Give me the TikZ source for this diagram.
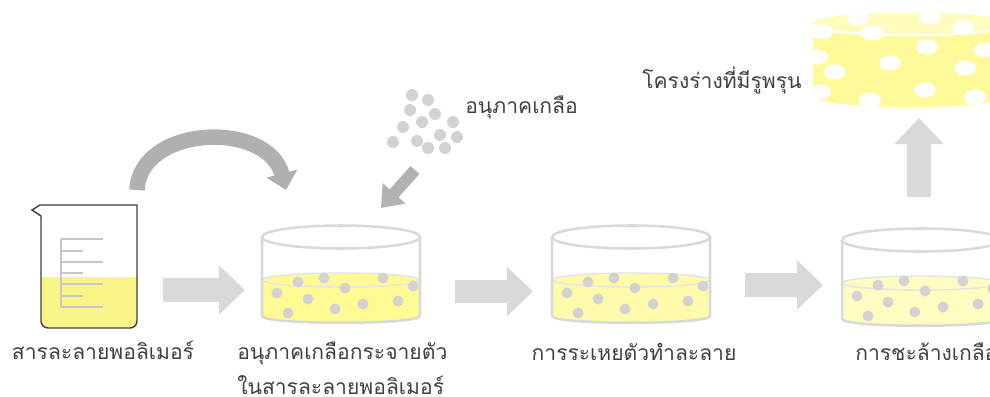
\documentclass[tikz,border=0pt]{standalone}
\usepackage{fontspec}
\newfontfamily\thaifont[Script=Thai]{Loma}
\usepackage{xcolor}
\usepackage{tikz}
\usetikzlibrary{arrows.meta, positioning}

\definecolor{liquid}{HTML}{F8F488}

\begin{document}
\begin{tikzpicture}[
    x=0.025cm, y=-0.025cm,
    font=\thaifont\fontsize{15pt}{25pt}\selectfont,
    lbl/.style={text=black!75, inner sep=0pt},
    glass/.style={draw=gray!30, line width=1.8pt},
    grain/.style={fill=gray!35},
    hole/.style={fill=white},
    blockarr/.style={-{Triangle[length=18.5pt, width=34pt]}, line width=17pt, gray!30},
    pourarr/.style={-{Triangle[length=12pt, width=22pt]}, line width=11pt, gray!62},
    saltarr/.style={-{Triangle[length=14pt, width=21pt]}, line width=8.5pt, gray!60},
]

\useasboundingbox (0,0) rectangle (990,396);
\clip (0,0) rectangle (990,396);

% beaker with polymer solution
\fill[liquid] (41,277) -- (41,300) [rounded corners=5pt] -- (41,328) -- (137,328) -- (137,300) [sharp corners] -- (137,277) -- cycle;
\draw[gray!45, line width=0.8pt] (61,239) -- (61,307);
\foreach \y in {239,262,284,307}
    \draw[gray!45, line width=0.8pt] (61,\y) -- (103,\y);
\foreach \y in {251,273,296}
    \draw[gray!45, line width=0.8pt] (61,\y) -- (83,\y);
\draw[black!75, line width=1pt] (41,216) -- (32,210) -- (40,205) -- (137,205) -- (137,230) [rounded corners=5pt] -- (137,328) -- (41,328) -- (41,300) [sharp corners] -- cycle;

% dishes: liquid, glass, salt grains
\foreach \x/\dy/\c [count=\i] in {262/0/yellow!42, 552/0/yellow!33, 842/3/yellow!24} {
  \begin{scope}[shift={(\x,\dy)}]
    \coordinate (dish\i) at (79,280);
    \fill[\c] (0,280) .. controls (0,271) and (158,271) .. (158,280) -- (158,316) .. controls (158,325) and (0,325) .. (0,316) -- cycle;
    \draw[draw=gray!22, line width=1pt] (79,280) ellipse [x radius=79, y radius=7];
    \draw[glass] (79,237) ellipse [x radius=79, y radius=11.5];
    \draw[glass] (0,237) -- (0,316) .. controls (0,325) and (158,325) .. (158,316) -- (158,237);
    \foreach \px/\py in {36/282, 62/278, 121/278, 83/288, 151/286, 15/293, 46/299, 101/304, 136/301, 26/313, 73/309}
      \fill[grain] (\px,\py) circle (5.5);
  \end{scope}
}

% salt particles
\foreach \px/\py in {412/95, 428/100, 410/110, 435/114, 422/122, 453/122, 403/127, 440/135, 457/137, 393/142, 417/141, 428/148, 445/148}
  \fill[grain] (\px,\py) circle (6);
\node[lbl, anchor=west] (saltlbl) at (465,107) {อนุภาคเกลือ};

% porous scaffold
\begin{scope}
  \clip (813,24) -- (813,95) .. controls (813,111) and (1007,111) .. (1007,95) -- (1007,24) .. controls (1007,9) and (813,9) .. (813,24) -- cycle;
  \fill[yellow!40] (800,0) rectangle (1010,120);
  \fill[yellow!26] (910,24) ellipse [x radius=97, y radius=11];
  \draw[white, line width=1.5pt] (813,24) .. controls (813,39) and (1007,39) .. (1007,24);
  \foreach \px/\py in {822/32, 858/18, 872/33, 930/17, 963/28, 927/47, 985/50, 817/57, 890/63, 835/72, 965/68, 925/90, 820/92, 870/100, 975/97}
    \fill[hole] (\px,\py) ellipse [x radius=11, y radius=7.5];
\end{scope}
\node[lbl, anchor=west] (porous) at (642,80) {โครงร่างที่มีรูพรุน};

% process arrows
\coordinate (a1s) at (163,290);
\coordinate (a1e) at (245,290);
\coordinate (a2s) at (455,291.5);
\coordinate (a2e) at (533,291.5);
\coordinate (a3s) at (745,285);
\coordinate (a3e) at (823,285);
\coordinate (ups) at (919,197);
\coordinate (upe) at (919,118);
\draw[blockarr] (a1s) -- (a1e);
\draw[blockarr] (a2s) -- (a2e);
\draw[blockarr] (a3s) -- (a3e);
\draw[blockarr] (ups) -- (upe);

\coordinate (pour) at (137,190);
\coordinate (pourend) at (286,190);
\draw[pourarr] (pour) .. controls (140,125) and (268,120) .. (pourend);
\coordinate (salttop) at (415,170);
\coordinate (saltend) at (381,208);
\draw[saltarr] (salttop) -- (saltend);

% step labels
\node[lbl] (polymer) at (103,350) {สารละลายพอลิเมอร์};
\node[lbl, anchor=west, align=left] (mixed) at (237,368) {อนุภาคเกลือกระจายตัว\\ในสารละลายพอลิเมอร์};
\node[lbl] (evap) at (634,352) {การระเหยตัวทำละลาย};
\node[lbl, anchor=west] (leach) at (855,352) {การชะล้างเกลือ};

\end{tikzpicture}
\end{document}
